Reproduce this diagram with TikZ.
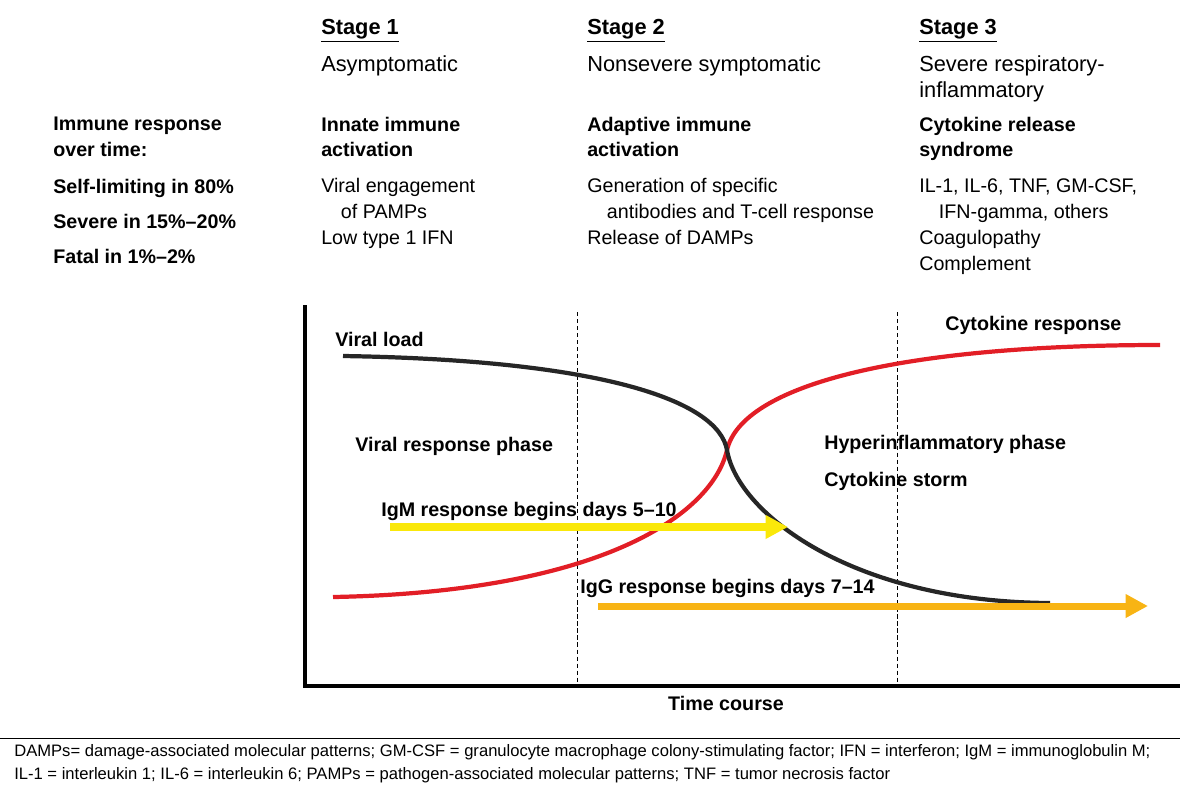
\documentclass[tikz,border=0pt]{standalone}
\usepackage{fontspec}
\setmainfont{Liberation Sans}
\usetikzlibrary{arrows.meta}
\tikzset{>=latex}
\definecolor{curvered}{RGB}{226,30,38}
\definecolor{igmyellow}{RGB}{250,232,10}
\definecolor{igggold}{RGB}{248,180,20}

\begin{document}
\begin{tikzpicture}[x=0.025cm,y=-0.025cm,
  every node/.style={inner sep=0pt,anchor=north west,align=left},
  head/.style={font=\fontsize{15.5}{18}\selectfont\bfseries},
  sub/.style={font=\fontsize{15.5}{18.5}\selectfont},
  bold/.style={font=\fontsize{14}{18}\selectfont\bfseries},
  txt/.style={font=\fontsize{14}{18.5}\selectfont},
  foot/.style={font=\fontsize{11.8}{16.5}\selectfont}]

% Drawing area
\useasboundingbox (0,0) rectangle (1200,798);

% Stage headings
\node[head] (s1) at (321,19) {\underline{Stage 1}};
\node[sub] (s1t) at (321,55) {Asymptomatic};
\node[head] (s2) at (587,19) {\underline{Stage 2}};
\node[sub] (s2t) at (587,55) {Nonsevere symptomatic};
\node[head] (s3) at (919,19) {\underline{Stage 3}};
\node[sub] (s3t) at (919,55) {Severe respiratory-\\inflammatory};

% Left column
\node[bold] (imm) at (53,117) {Immune response\\over time:};
\node[bold] (self) at (53,179) {Self-limiting in 80\%};
\node[bold] (sev) at (53,214) {Severe in 15\%--20\%};
\node[bold] (fat) at (53,249) {Fatal in 1\%--2\%};

% Stage contents
\node[bold] (inn) at (321,117) {Innate immune\\activation};
\node[txt] (innt) at (321,178) {Viral engagement\\\hspace*{1em}of PAMPs\\Low type 1 IFN};
\node[bold] (ada) at (587,117) {Adaptive immune\\activation};
\node[txt] (adat) at (587,178) {Generation of specific\\\hspace*{1em}antibodies and T-cell response\\Release of DAMPs};
\node[bold] (cyt) at (919,117) {Cytokine release\\syndrome};
\node[txt] (cytt) at (919,178) {IL-1, IL-6, TNF, GM-CSF,\\\hspace*{1em}IFN-gamma, others\\Coagulopathy\\Complement};

% Axes and phase borders
\draw[line width=2.2pt] (305,305) -- (305,686) -- (1180,686);
\draw[densely dashed,line width=0.5pt] (577,312) -- (577,686);
\draw[densely dashed,line width=0.5pt] (897,312) -- (897,686);

% Curves
\coordinate (cross) at (727,450);
\draw[curvered,line width=3pt] (333,597) .. controls (600,592) and (712,515) .. (cross)
  .. controls (742,385) and (900,345) .. (1160,345);
\draw[black!85,line width=3pt] (343,356) .. controls (600,360) and (718,400) .. (cross)
  .. controls (737,512) and (850,602) .. (1050,603);

% Curve and phase labels
\node[bold] (vl) at (335,332) {Viral load};
\node[bold] (cr) at (945,316) {Cytokine response};
\node[bold] (vrp) at (355,437) {Viral response phase};
\node[bold] (hyp) at (824,435) {Hyperinflammatory phase};
\node[bold] (storm) at (824,472) {Cytokine storm};

% Antibody arrows
\coordinate (igmA) at (390,527);
\coordinate (igmB) at (788,527);
\coordinate (iggA) at (598,606);
\coordinate (iggB) at (1148,606);
\draw[igmyellow,line width=5pt,-{Triangle[length=16pt,width=16pt]}] (igmA) -- (igmB);
\draw[igggold,line width=5pt,-{Triangle[length=16pt,width=16pt]}] (iggA) -- (iggB);
\node[bold] (igm) at (381,502) {IgM response begins days 5--10};
\node[bold] (igg) at (580,579) {IgG response begins days 7--14};

\node[bold,anchor=north] (time) at (726,696) {Time course};

% Footer
\draw[line width=0.6pt] (0,738) -- (1180,738);
\node[foot] (fn) at (14,744) {DAMPs= damage-associated molecular patterns; GM-CSF = granulocyte macrophage colony-stimulating factor; IFN = interferon; IgM = immunoglobulin M;\\IL-1 = interleukin 1; IL-6 = interleukin 6; PAMPs = pathogen-associated molecular patterns; TNF = tumor necrosis factor};
\end{tikzpicture}
\end{document}
